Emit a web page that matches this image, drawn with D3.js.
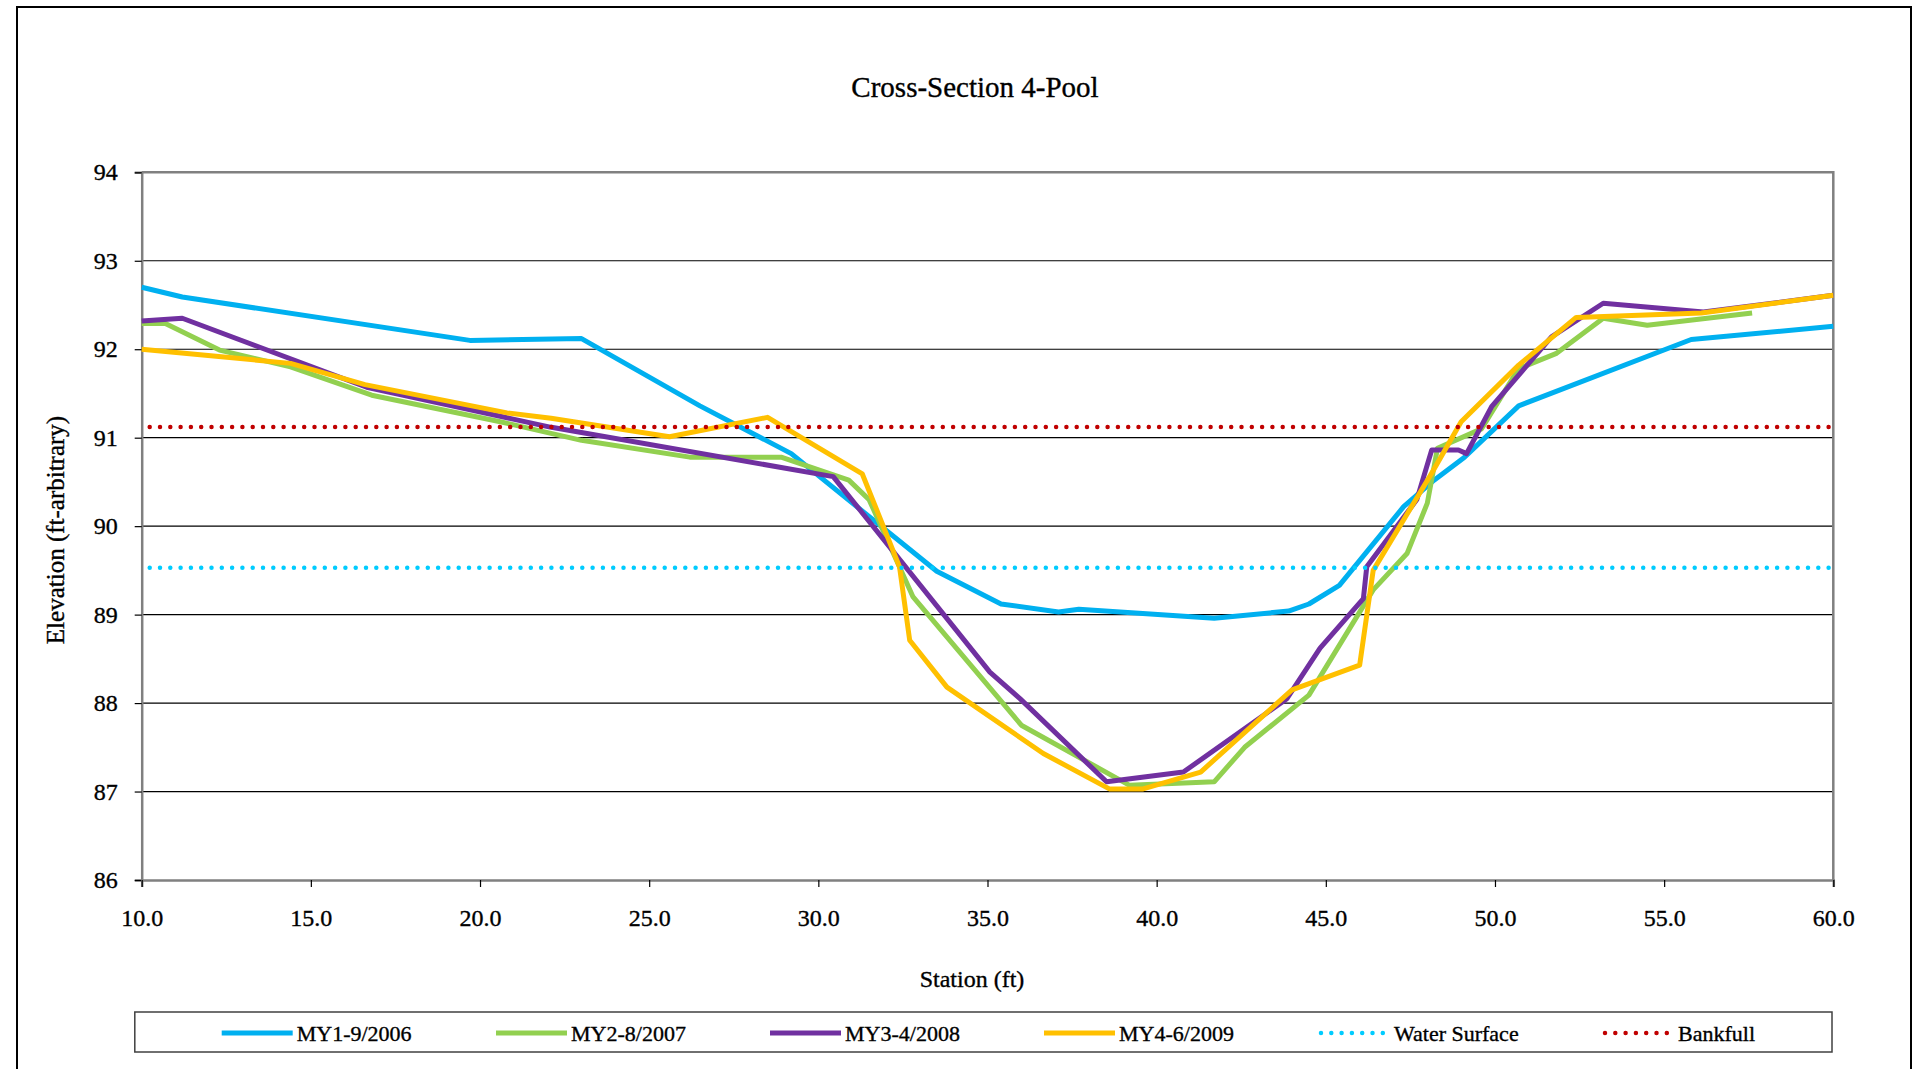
<!DOCTYPE html>
<html>
<head>
<meta charset="utf-8">
<script src="https://cdn.jsdelivr.net/npm/d3@7"></script>
<style>
  html, body { margin: 0; padding: 0; background: #fff; }
  svg { display: block; }
  text { font-family: "Liberation Serif", "Times New Roman", serif; fill: #000; stroke: #000; stroke-width: 0.35px; }
</style>
</head>
<body>
<svg id="chart" width="1917" height="1069"></svg>
<script>
// ---- data ----
const chartTitle = "Cross-Section 4-Pool";
const xTitle = "Station (ft)";
const yTitle = "Elevation (ft-arbitrary)";
const xTicks = [10, 15, 20, 25, 30, 35, 40, 45, 50, 55, 60];
const yTicks = [86, 87, 88, 89, 90, 91, 92, 93, 94];
const seriesNames = ["MY1-9/2006", "MY2-8/2007", "MY3-4/2008", "MY4-6/2009", "Water Surface", "Bankfull"];

const my1 = [[10,92.70],[11.2,92.59],[19.7,92.10],[23.0,92.12],[26.5,91.36],[29.2,90.82],[33.5,89.49],[35.4,89.12],[37.1,89.03],[37.7,89.06],[41.7,88.96],[43.9,89.04],[44.5,89.12],[45.4,89.33],[47.3,90.22],[48.2,90.52],[49.1,90.78],[50.7,91.36],[55.8,92.11],[60,92.26]];
const my2 = [[10,92.29],[10.7,92.29],[12.3,91.99],[14.4,91.80],[16.8,91.48],[20.6,91.18],[23.0,90.97],[26.2,90.78],[28.9,90.78],[30.9,90.52],[31.5,90.30],[32.8,89.20],[36.0,87.75],[39.2,87.07],[41.7,87.11],[42.6,87.50],[44.5,88.09],[46.4,89.28],[47.4,89.69],[48.0,90.26],[48.3,90.88],[49.6,91.10],[50.7,91.78],[51.8,91.95],[53.2,92.35],[54.5,92.27],[57.6,92.41]];
const my3 = [[10,92.32],[11.2,92.35],[16.65,91.57],[22.07,91.12],[30.44,90.56],[35.07,88.35],[35.96,88.05],[38.52,87.11],[40.79,87.22],[43.85,88.05],[44.83,88.62],[46.11,89.18],[46.21,89.54],[47.69,90.30],[48.13,90.86],[48.92,90.86],[49.16,90.82],[49.9,91.35],[51.67,92.14],[53.2,92.52],[56.16,92.42],[60,92.61]];
const my4 = [[10,92.00],[12.2,91.92],[14.4,91.84],[16.6,91.60],[20.8,91.28],[22.1,91.22],[25.6,91.01],[28.5,91.23],[31.3,90.59],[32.4,89.54],[32.7,88.71],[33.8,88.18],[36.65,87.43],[38.6,87.03],[39.6,87.03],[41.3,87.22],[44.0,88.15],[46.0,88.43],[46.4,89.50],[48.1,90.58],[49.0,91.18],[50.7,91.82],[52.4,92.36],[56.1,92.41],[60,92.61]];
const waterSurface = [[10,89.53],[60,89.53]];
const bankfull = [[10,91.12],[60,91.12]];

// ---- layout / style ----
const colors = ["#00B0F0", "#92D050", "#7030A0", "#FFC000", "#00CCFF", "#C00000"];
const plot = { left: 141.7, right: 1833.3, top: 172.3, bottom: 880 };

const svg = d3.select("#chart");

// outer border
svg.append("rect").attr("x", 17).attr("y", 7).attr("width", 1894).attr("height", 1100)
  .attr("fill", "none").attr("stroke", "#000").attr("stroke-width", 2);

const x = d3.scaleLinear().domain([10, 60]).range([plot.left, plot.right]);
const y = d3.scaleLinear().domain([86, 94]).range([plot.bottom, plot.top]);

// title
svg.append("text").attr("x", 975).attr("y", 97).attr("text-anchor", "middle")
  .attr("font-size", 29).text(chartTitle);

// gridlines
svg.append("g").selectAll("line").data(yTicks.filter(d => d > 86 && d < 94)).join("line")
  .attr("x1", plot.left).attr("x2", plot.right)
  .attr("y1", d => y(d)).attr("y2", d => y(d))
  .attr("stroke", "#000").attr("stroke-width", 1.2);

// plot frame (top & right)
svg.append("path")
  .attr("d", `M${plot.left},${plot.top}H${plot.right}V${plot.bottom}`)
  .attr("fill", "none").attr("stroke", "#808080").attr("stroke-width", 2.5);

// y axis
const yAxis = d3.axisLeft(y).tickValues(yTicks).tickSize(7).tickPadding(17).tickFormat(d3.format("d"));
const gy = svg.append("g").attr("transform", `translate(${plot.left},0)`).call(yAxis);
gy.select(".domain").attr("stroke", "#808080").attr("stroke-width", 2.5);
gy.selectAll(".tick line").attr("stroke", "#000").attr("stroke-width", 1.2);
gy.selectAll(".tick text").attr("font-size", 24).attr("font-family", "Liberation Serif, serif").attr("fill", "#000");

// x axis
const xAxis = d3.axisBottom(x).tickValues(xTicks).tickSize(7).tickPadding(22).tickFormat(d3.format(".1f"));
const gx = svg.append("g").attr("transform", `translate(0,${plot.bottom})`).call(xAxis);
gx.select(".domain").attr("stroke", "#808080").attr("stroke-width", 2.5);
gx.selectAll(".tick line").attr("stroke", "#000").attr("stroke-width", 1.2);
gx.selectAll(".tick text").attr("font-size", 24).attr("font-family", "Liberation Serif, serif").attr("fill", "#000");

// axis titles
svg.append("text").attr("x", 972).attr("y", 987).attr("text-anchor", "middle")
  .attr("font-size", 24).text(xTitle);
svg.append("text").attr("transform", "translate(64,530) rotate(-90)").attr("text-anchor", "middle")
  .attr("font-size", 25).text(yTitle);

// series
const line = d3.line().x(d => x(d[0])).y(d => y(d[1]));
const solidSeries = [my1, my2, my3, my4];
const gSeries = svg.append("g");
solidSeries.forEach((s, i) => {
  gSeries.append("path").datum(s).attr("d", line)
    .attr("fill", "none").attr("stroke", colors[i]).attr("stroke-width", 5)
    .attr("stroke-linejoin", "round");
});
[waterSurface, bankfull].forEach((s, i) => {
  gSeries.append("path").datum(s)
    .attr("fill", "none").attr("stroke", colors[4 + i]).attr("stroke-width", 4.5)
    .attr("stroke-linecap", "round").attr("stroke-dasharray", "0 10.3")
    .attr("transform", "translate(8,0)")
    .attr("d", d3.line().x(d => Math.min(x(d[0]), plot.right - 12)).y(d => y(d[1])));
});

// legend
svg.append("rect").attr("x", 134.8).attr("y", 1012).attr("width", 1697.2).attr("height", 40)
  .attr("fill", "#fff").attr("stroke", "#404040").attr("stroke-width", 1.5);
const legendX = [221.7, 496, 770, 1044, 1319, 1603];
const legendY = 1033;
seriesNames.forEach((name, i) => {
  const g = svg.append("g").attr("transform", `translate(${legendX[i]},${legendY})`);
  if (i < 4) {
    g.append("line").attr("x1", 0).attr("x2", 71).attr("y1", 0).attr("y2", 0)
      .attr("stroke", colors[i]).attr("stroke-width", 5);
  } else {
    g.append("line").attr("x1", 2).attr("x2", 66).attr("y1", 0).attr("y2", 0)
      .attr("stroke", colors[i]).attr("stroke-width", 4.5)
      .attr("stroke-linecap", "round").attr("stroke-dasharray", "0 10.3");
  }
  g.append("text").attr("x", 75).attr("y", 7.5).attr("font-size", 22).text(name);
});
</script>
</body>
</html>
